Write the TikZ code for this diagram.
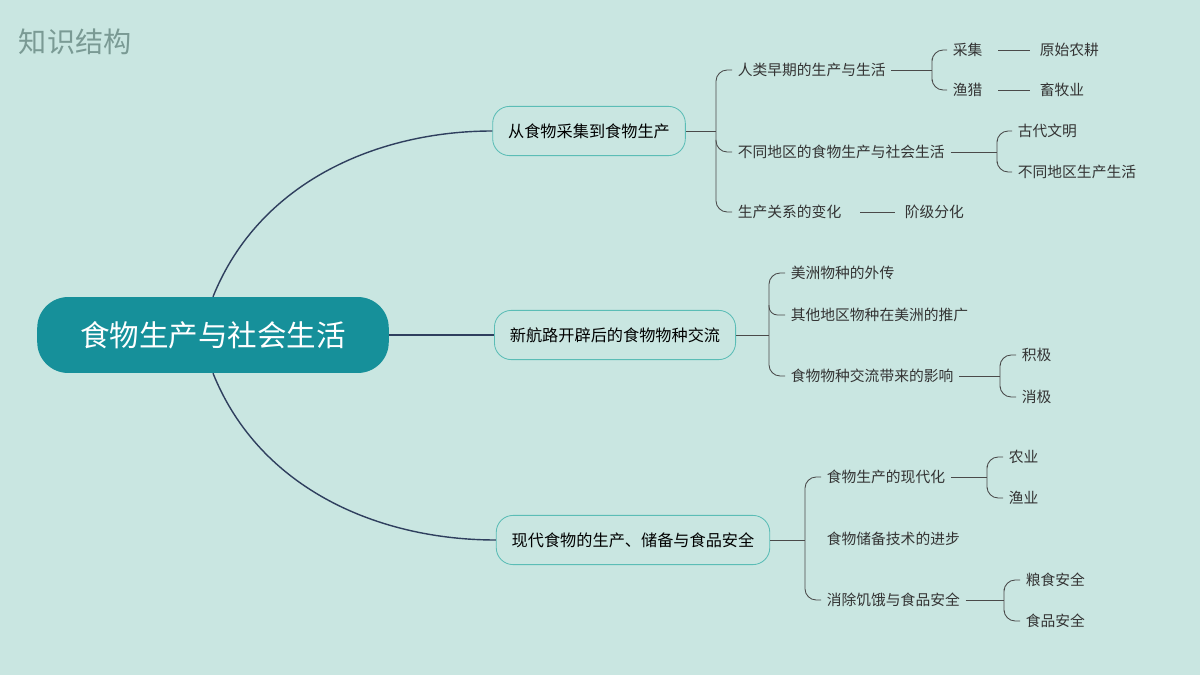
\documentclass[tikz,border=0pt]{standalone}
\usepackage{fontspec}
\setmainfont{Noto Sans CJK SC}
\definecolor{bgc}{HTML}{C9E6E1}
\definecolor{rootc}{HTML}{16909A}
\definecolor{linec}{HTML}{2F3F5E}
\definecolor{framec}{HTML}{5BBDB6}
\definecolor{bracec}{HTML}{4A4A4A}
\definecolor{titlec}{HTML}{7A9A94}
\tikzset{
  root/.style={fill=rootc, text=white, rounded corners=22pt, minimum width=250pt, minimum height=54pt, font=\fontsize{21}{24}\selectfont},
  branch/.style={draw=framec, line width=0.6pt, rounded corners=12pt, minimum height=35pt, inner xsep=11pt, font=\fontsize{11.5}{13}\selectfont, text=black},
  leaf/.style={anchor=west, inner sep=4pt, font=\fontsize{10.5}{12}\selectfont, text=black!80},
  brace/.style={draw=bracec, line width=0.6pt},
  link/.style={draw=linec, line width=1pt},
}
\begin{document}
\begin{tikzpicture}[x=0.025cm, y=-0.025cm]
		\fill[bgc] (0,0) rectangle (1200,675);
		\node[text=titlec, anchor=west, font=\fontsize{20}{22}\selectfont] (title) at (14,42) {知识结构};
		% root and branches
		\node[root] (root) at (213,335) {食物生产与社会生活};
		\node[branch] (b1) at (589,131) {从食物采集到食物生产};
		\node[branch] (b2) at (615,335) {新航路开辟后的食物物种交流};
		\node[branch] (b3) at (633,540) {现代食物的生产、储备与食品安全};
		\draw[link] (root.north) .. controls (260,180) and (380,131) .. (b1.west);
		\draw[link] (root.east) -- (b2.west);
		\draw[link] (root.south) .. controls (260,490) and (380,540) .. (b3.west);
		% group 1
		\node[leaf] (a1) at (732,70) {人类早期的生产与生活};
		\node[leaf] (a2) at (732,152) {不同地区的食物生产与社会生活};
		\node[leaf] (a3) at (732,212) {生产关系的变化};
		\draw[brace] (b1.east) -- (716,131);
		\draw[brace, rounded corners=8] (a1.west) -| (716,131) |- (a3.west);
		\draw[brace, rounded corners=8] (716,140) |- (a2.west);
		\node[leaf] (a11) at (947,50) {采集};
		\node[leaf] (a12) at (947,90) {渔猎};
		\draw[brace] (a1.east) -- (932,70);
		\draw[brace, rounded corners=8] (a11.west) -| (932,70) |- (a12.west);
		\node[leaf] (a111) at (1034,50) {原始农耕};
		\node[leaf] (a121) at (1034,90) {畜牧业};
		\draw[brace] (998,50) -- (1030,50);
		\draw[brace] (998,90) -- (1030,90);
		\node[leaf] (a21) at (1012,131) {古代文明};
		\node[leaf] (a22) at (1012,172) {不同地区生产生活};
		\draw[brace] (a2.east) -- (997,152);
		\draw[brace, rounded corners=8] (a21.west) -| (997,152) |- (a22.west);
		\node[leaf] (a31) at (899,212) {阶级分化};
		\draw[brace] (860,212) -- (895,212);
		% group 2
		\node[leaf] (c1) at (785,273) {美洲物种的外传};
		\node[leaf] (c2) at (785,315) {其他地区物种在美洲的推广};
		\node[leaf] (c3) at (785,376) {食物物种交流带来的影响};
		\draw[brace] (b2.east) -- (769,335);
		\draw[brace, rounded corners=8] (c1.west) -| (769,335) |- (c3.west);
		\draw[brace, rounded corners=6] (769,305) |- (c2.west);
		\node[leaf] (c31) at (1016,355) {积极};
		\node[leaf] (c32) at (1016,397) {消极};
		\draw[brace] (c3.east) -- (1000,376);
		\draw[brace, rounded corners=8] (c31.west) -| (1000,376) |- (c32.west);
		% group 3
		\node[leaf] (d1) at (821,477) {食物生产的现代化};
		\node[leaf] (d2) at (821,539) {食物储备技术的进步};
		\node[leaf] (d3) at (821,600) {消除饥饿与食品安全};
		\draw[brace] (b3.east) -- (805,540);
		\draw[brace, rounded corners=8] (d1.west) -| (805,540) |- (d3.west);
		\node[leaf] (d11) at (1003,457) {农业};
		\node[leaf] (d12) at (1003,498) {渔业};
		\draw[brace] (d1.east) -- (987,477);
		\draw[brace, rounded corners=8] (d11.west) -| (987,477) |- (d12.west);
		\node[leaf] (d31) at (1020,580) {粮食安全};
		\node[leaf] (d32) at (1020,621) {食品安全};
		\draw[brace] (d3.east) -- (1004,600);
		\draw[brace, rounded corners=8] (d31.west) -| (1004,600) |- (d32.west);
	\end{tikzpicture}
\end{document}
